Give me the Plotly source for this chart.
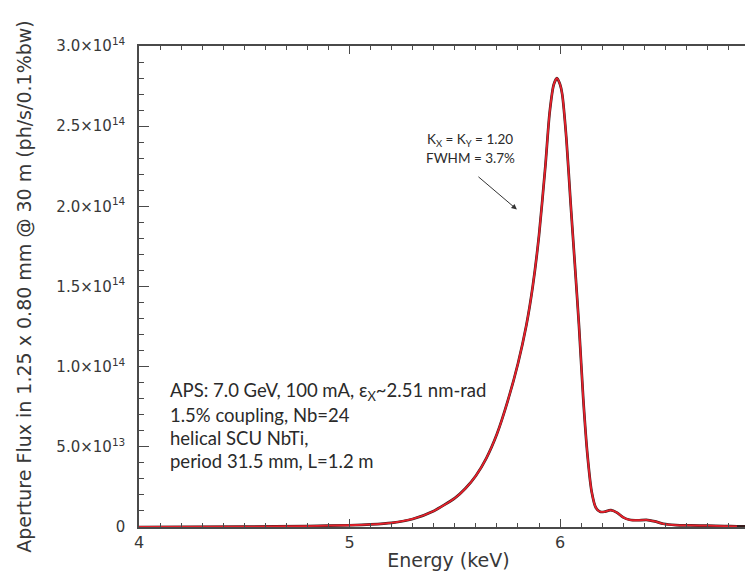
import plotly.graph_objects as go

# ---- data ----
energy_kev = [4.00, 4.50, 4.80, 5.00, 5.10, 5.20, 5.30, 5.40, 5.50, 5.55, 5.60, 5.65, 5.70,
              5.75, 5.80, 5.84, 5.87, 5.90, 5.93, 5.95, 5.97, 5.985, 6.00, 6.01, 6.03,
              6.05, 6.07, 6.09, 6.11, 6.13, 6.15, 6.17, 6.19, 6.21, 6.24, 6.27, 6.30,
              6.33, 6.37, 6.41, 6.45, 6.49, 6.55, 6.62, 6.70, 6.78, 6.84]
flux_e14 = [0.000, 0.002, 0.006, 0.011, 0.016, 0.026, 0.05, 0.10, 0.18, 0.24, 0.32, 0.43, 0.58,
            0.78, 1.02, 1.26, 1.50, 1.82, 2.25, 2.58, 2.76, 2.80, 2.76, 2.70, 2.42,
            2.02, 1.64, 1.25, 0.80, 0.45, 0.22, 0.12, 0.095, 0.095, 0.105, 0.09, 0.06,
            0.045, 0.042, 0.045, 0.035, 0.02, 0.012, 0.010, 0.008, 0.006, 0.004]
# the dark (second) curve continues along the baseline to the right border
tail_energy = [6.90, 6.94]
tail_flux = [0.003, 0.002]

y_tick_vals = [0, 0.5, 1.0, 1.5, 2.0, 2.5, 3.0]
y_tick_text = ["0", "5.0×10<sup>13</sup>", "1.0×10<sup>14</sup>", "1.5×10<sup>14</sup>",
               "2.0×10<sup>14</sup>", "2.5×10<sup>14</sup>", "3.0×10<sup>14</sup>"]
x_range = [4.0, 6.94]
y_range = [0.0, 3.0]

info_lines = ["APS: 7.0 GeV, 100 mA, ε<sub>X</sub>~2.51 nm-rad",
              "1.5% coupling, Nb=24",
              "helical SCU NbTi,",
              "period 31.5 mm, L=1.2 m"]
k_lines = ["K<sub>X</sub> = K<sub>Y</sub> = 1.20", "FWHM = 3.7%"]
arrow_target = (5.795, 1.98)

# ---- figure ----
W, H = 753, 573
L, R, T, B = 131, 3, 38, 54
pw, ph = W - L - R, H - T - B

def px(x):
    return (x - L) / pw

def py(y):
    return (H - B - y) / ph

AX = "#4a4a4a"
TXT = "#383838"
axfont = "DejaVu Sans"

fig = go.Figure()
fig.add_trace(go.Scatter(x=energy_kev + tail_energy, y=flux_e14 + tail_flux, mode="lines",
                         line=dict(color="#3a1c1c", width=2.7, shape="spline", smoothing=0.6),
                         hoverinfo="skip", showlegend=False))
fig.add_trace(go.Scatter(x=energy_kev, y=flux_e14, mode="lines",
                         line=dict(color="#e8202b", width=1.8, shape="spline", smoothing=0.6),
                         showlegend=False))
# invisible trace to carry the mirrored top/right axes
fig.add_trace(go.Scatter(x=energy_kev, y=flux_e14, xaxis="x2", yaxis="y2", mode="lines",
                         line=dict(color="rgba(0,0,0,0)"), hoverinfo="skip", showlegend=False))

common_x = dict(range=x_range, tickmode="linear", tick0=4, dtick=1, ticks="inside",
                ticklen=8, tickwidth=1.3, tickcolor=AX, showline=True, linecolor=AX,
                linewidth=1.5, showgrid=False, zeroline=False,
                minor=dict(tick0=4, dtick=0.1, ticks="inside", ticklen=4, tickwidth=1.1,
                           tickcolor=AX, showgrid=False))

fig.update_layout(
    width=W, height=H,
    margin=dict(l=L, r=R, t=T, b=B, autoexpand=False),
    paper_bgcolor="white", plot_bgcolor="white",
    font=dict(family=axfont, color=TXT, size=16),
    xaxis=dict(**common_x, tickfont=dict(size=16, family=axfont, color=TXT),
               ticklabelstandoff=0,
               title=dict(text="Energy (keV)", font=dict(size=19, family=axfont, color=TXT),
                          standoff=3)),
    xaxis2=dict(**common_x, overlaying="x", side="top", anchor="y2", showticklabels=False),
    yaxis=dict(range=y_range, tickmode="array", tickvals=y_tick_vals, ticktext=y_tick_text,
               ticks="inside", ticklen=10, tickwidth=1.3, tickcolor=AX, showline=True,
               linecolor=AX, linewidth=1.5, showgrid=False, zeroline=False,
               tickfont=dict(size=15, family=axfont, color=TXT), ticklabelstandoff=9,
               minor=dict(tickmode="linear", tick0=0, dtick=0.1, ticks="inside", ticklen=5,
                          tickwidth=1.1, tickcolor=AX, showgrid=False),
               title=dict(text="Aperture Flux in 1.25 x 0.80 mm @ 30 m (ph/s/0.1%bw)",
                          font=dict(size=19, family=axfont, color=TXT), standoff=20)),
    yaxis2=dict(range=y_range, tickmode="array", tickvals=y_tick_vals, overlaying="y",
                side="right", anchor="x2", ticks="inside", ticklen=5, tickwidth=1.3,
                tickcolor=AX, showline=True, linecolor=AX, linewidth=1.5,
                showticklabels=False, showgrid=False, zeroline=False),
)

info_y = [384, 407, 430, 453]
for txt, yy in zip(info_lines, info_y):
    fig.add_annotation(text=txt, xref="paper", yref="paper", x=px(160), y=py(yy),
                       xanchor="left", yanchor="middle", showarrow=False,
                       font=dict(family="Lato", size=18.5, color="#2a2a2a"))

for txt, yy in zip(k_lines, [132, 150]):
    fig.add_annotation(text=txt, xref="paper", yref="paper", x=px(462), y=py(yy),
                       xanchor="center", yanchor="middle", showarrow=False,
                       font=dict(family="Lato", size=13.5, color="#2a2a2a"))

fig.add_annotation(x=arrow_target[0], y=arrow_target[1], xref="x", yref="y", text="",
                   showarrow=True, arrowhead=2, arrowsize=1.1, arrowwidth=1,
                   arrowcolor="#333333", ax=-40, ay=-34)

fig.write_html("out.html")
